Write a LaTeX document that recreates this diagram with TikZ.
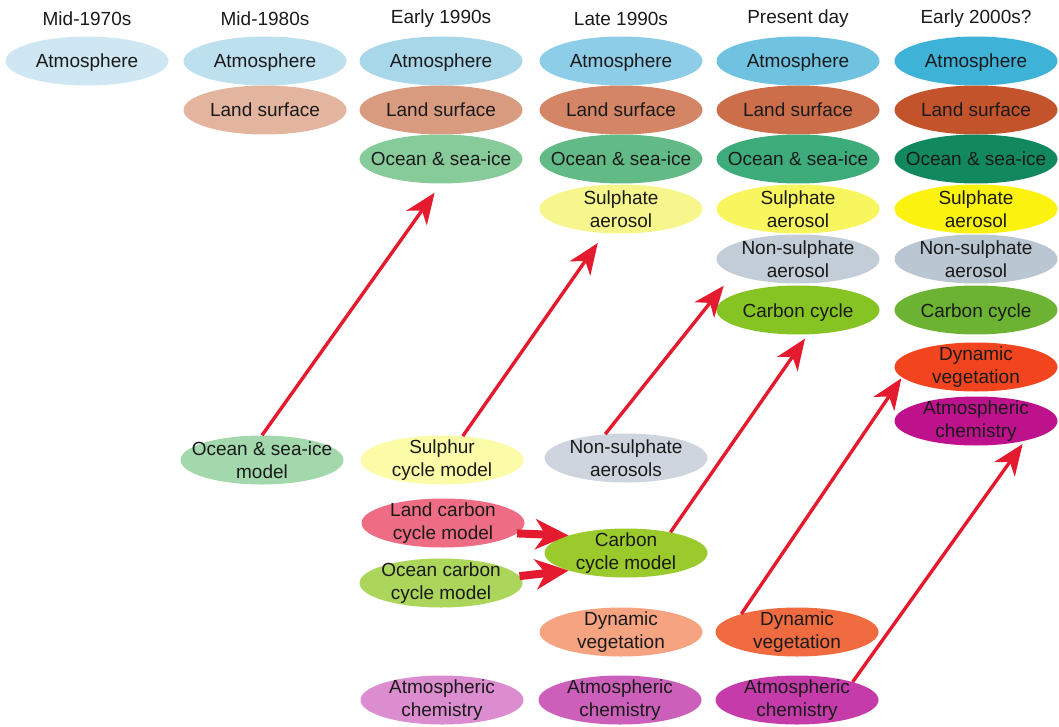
\documentclass[tikz,border=0pt]{standalone}
\usepackage{fontspec}
\setmainfont{Liberation Sans}
\usetikzlibrary{shapes.geometric,arrows.meta,calc}
\definecolor{txt}{HTML}{1A1A1A}
\definecolor{arrowred}{HTML}{E41B2E}
\definecolor{atmA}{HTML}{CFE7F2}
\definecolor{atmB}{HTML}{BDE0EE}
\definecolor{atmC}{HTML}{A8D7EA}
\definecolor{atmD}{HTML}{8DCDE7}
\definecolor{atmE}{HTML}{6FC3E1}
\definecolor{atmF}{HTML}{3FB2D7}
\definecolor{landB}{HTML}{E3B59F}
\definecolor{landC}{HTML}{D99B80}
\definecolor{landD}{HTML}{D38566}
\definecolor{landE}{HTML}{CC6E4A}
\definecolor{landF}{HTML}{C3532B}
\definecolor{ocC}{HTML}{87CB9B}
\definecolor{ocD}{HTML}{62BB87}
\definecolor{ocE}{HTML}{3EAB7B}
\definecolor{ocF}{HTML}{12885E}
\definecolor{sulD}{HTML}{F6F68C}
\definecolor{sulE}{HTML}{F8F65E}
\definecolor{sulF}{HTML}{FBF20F}
\definecolor{nsE}{HTML}{C3CDD7}
\definecolor{nsF}{HTML}{BAC6D1}
\definecolor{ccE}{HTML}{86C424}
\definecolor{ccF}{HTML}{6DB333}
\definecolor{dvF}{HTML}{F2451F}
\definecolor{achF}{HTML}{BE118C}
\definecolor{osimC}{HTML}{A2D8AC}
\definecolor{scmC}{HTML}{FBFBA8}
\definecolor{nsaC}{HTML}{CED5DE}
\definecolor{lcmC}{HTML}{EE6D84}
\definecolor{ocmC}{HTML}{ABD55B}
\definecolor{ccmC}{HTML}{9ACA2B}
\definecolor{dvD}{HTML}{F6A381}
\definecolor{dvE}{HTML}{F06B40}
\definecolor{acC}{HTML}{DC8DD0}
\definecolor{acD}{HTML}{CC5FBA}
\definecolor{acE}{HTML}{C43BA9}
% two-line label, centred
\newcommand\ellnode[5]{\node[blob, fill=#4] (#1) at (#2,#3) {}; \node[lbl] at (#1) {#5};}
% one-line label, placed on its baseline
\newcommand\ellone[5]{\node[blob, fill=#4] (#1) at (#2,#3) {}; \node[lbl, anchor=base] at ($(#1.center)+(0,7)$) {#5};}
\begin{document}
\begin{tikzpicture}[x=1pt,y=-1pt,
  blob/.style={ellipse, draw=none, minimum width=163pt, minimum height=49pt, inner sep=0pt},
  lbl/.style={font=\fontsize{19}{22.5}\selectfont, align=center, text=txt, inner sep=0pt},
  hdr/.style={font=\fontsize{19}{22}\selectfont, text=txt, inner sep=0pt},
  rarrow/.style={draw=arrowred, line width=3.4pt, -{Stealth[length=31pt,width=25pt,inset=9pt]}},
  fat/.style={draw=arrowred, line width=8pt, -{Stealth[length=33pt,width=30pt,inset=10pt]}}]
\useasboundingbox (0,0) rectangle (1059,727);
% headers
\node[hdr] (h1) at (87,19) {Mid-1970s};
\node[hdr] (h2) at (265,19) {Mid-1980s};
\node[hdr] (h3) at (441,19) {Early 1990s};
\node[hdr] (h4) at (621,19) {Late 1990s};
\node[hdr] (h5) at (798,19) {Present day};
\node[hdr] (h6) at (976,19) {Early 2000s?};
% column 1
\ellone{a1}{87}{61}{atmA}{Atmosphere}
% column 2
\ellone{a2}{265}{61}{atmB}{Atmosphere}
\ellone{l2}{265}{110}{landB}{Land surface}
% column 3
\ellone{a3}{441}{61}{atmC}{Atmosphere}
\ellone{l3}{441}{110}{landC}{Land surface}
\ellone{o3}{441}{159}{ocC}{Ocean \& sea-ice}
% column 4
\ellone{a4}{621}{61}{atmD}{Atmosphere}
\ellone{l4}{621}{110}{landD}{Land surface}
\ellone{o4}{621}{159}{ocD}{Ocean \& sea-ice}
\ellnode{s4}{621}{209}{sulD}{Sulphate\\aerosol}
% column 5
\ellone{a5}{798}{61}{atmE}{Atmosphere}
\ellone{l5}{798}{110}{landE}{Land surface}
\ellone{o5}{798}{159}{ocE}{Ocean \& sea-ice}
\ellnode{s5}{798}{209}{sulE}{Sulphate\\aerosol}
\ellnode{n5}{798}{259}{nsE}{Non-sulphate\\aerosol}
\ellone{c5}{798}{310}{ccE}{Carbon cycle}
% column 6
\ellone{a6}{976}{61}{atmF}{Atmosphere}
\ellone{l6}{976}{110}{landF}{Land surface}
\ellone{o6}{976}{159}{ocF}{Ocean \& sea-ice}
\ellnode{s6}{976}{209}{sulF}{Sulphate\\aerosol}
\ellnode{n6}{976}{259}{nsF}{Non-sulphate\\aerosol}
\ellone{c6}{976}{310}{ccF}{Carbon cycle}
\ellnode{d6}{976}{367}{dvF}{Dynamic\\vegetation}
\ellnode{ch6}{976}{421}{achF}{Atmospheric\\chemistry}
% bottom models
\ellnode{osim}{262}{460}{osimC}{Ocean \& sea-ice\\model}
\ellnode{scm}{442}{460}{scmC}{Sulphur\\cycle model}
\ellnode{nsa}{626}{458}{nsaC}{Non-sulphate\\aerosols}
\ellnode{lcm}{443}{523}{lcmC}{Land carbon\\cycle model}
\ellnode{ocm}{441}{583}{ocmC}{Ocean carbon\\cycle model}
\ellnode{ccm}{626}{553}{ccmC}{Carbon\\cycle model}
\ellnode{dv4}{621}{632}{dvD}{Dynamic\\vegetation}
\ellnode{dv5}{797}{632}{dvE}{Dynamic\\vegetation}
\ellnode{ac3}{442}{700}{acC}{Atmospheric\\chemistry}
\ellnode{ac4}{620}{700}{acD}{Atmospheric\\chemistry}
\ellnode{ac5}{797}{700}{acE}{Atmospheric\\chemistry}
% arrows
\draw[rarrow, shorten >=11pt] (osim.north) -- (o3.south);
\draw[rarrow, shorten >=12pt] (scm.49) -- (s4.236);
\draw[rarrow, shorten >=15pt] (nsa.131) -- (n5.193);
\draw[rarrow, shorten >=5pt] (ccm.25) -- (c5.292);
\draw[rarrow, shorten >=1pt] (dv5.162) -- (d6.188);
\draw[rarrow, shorten >=4pt] (ac5.18) -- (ch6.338);
\draw[fat] (lcm.-8) -- (ccm.163);
\draw[fat] (ocm.5) -- (ccm.197);
\end{tikzpicture}
\end{document}
